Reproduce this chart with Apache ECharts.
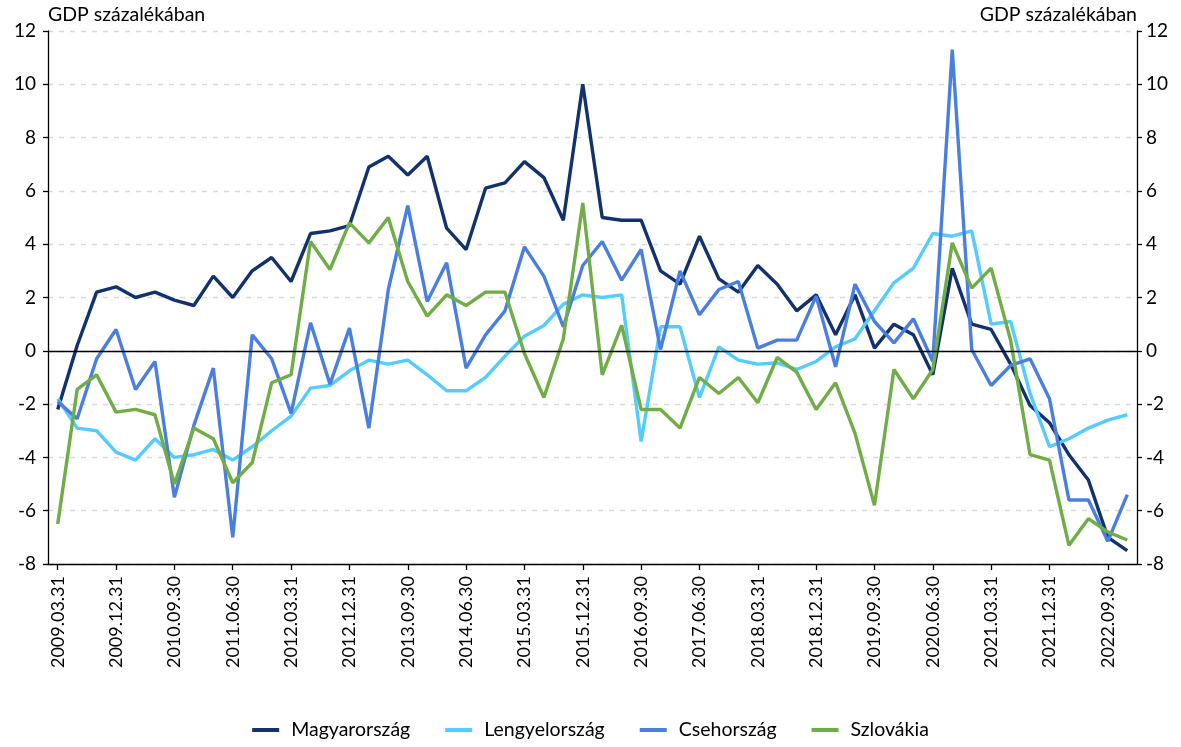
<!DOCTYPE html>
<html>
<head>
<meta charset="utf-8">
<script src="https://cdn.jsdelivr.net/npm/echarts@6/dist/echarts.min.js"></script>
<style>
html,body{margin:0;padding:0;background:#fff;}
#c{width:1181px;height:747px;}
</style>
</head>
<body>
<div id="c"></div>
<script>
const categories = [
 '2009.03.31','2009.06.30','2009.09.30','2009.12.31',
 '2010.03.31','2010.06.30','2010.09.30','2010.12.31',
 '2011.03.31','2011.06.30','2011.09.30','2011.12.31',
 '2012.03.31','2012.06.30','2012.09.30','2012.12.31',
 '2013.03.31','2013.06.30','2013.09.30','2013.12.31',
 '2014.03.31','2014.06.30','2014.09.30','2014.12.31',
 '2015.03.31','2015.06.30','2015.09.30','2015.12.31',
 '2016.03.31','2016.06.30','2016.09.30','2016.12.31',
 '2017.03.31','2017.06.30','2017.09.30','2017.12.31',
 '2018.03.31','2018.06.30','2018.09.30','2018.12.31',
 '2019.03.31','2019.06.30','2019.09.30','2019.12.31',
 '2020.03.31','2020.06.30','2020.09.30','2020.12.31',
 '2021.03.31','2021.06.30','2021.09.30','2021.12.31',
 '2022.03.31','2022.06.30','2022.09.30','2022.12.31'
];
const magyarorszag = [
 -2.2, 0.2, 2.2, 2.4, 2.0, 2.2, 1.9, 1.7, 2.8, 2.0, 3.0, 3.5,
 2.6, 4.4, 4.5, 4.7, 6.9, 7.3, 6.6, 7.3, 4.6, 3.8, 6.1, 6.3,
 7.1, 6.5, 4.9, 10.0, 5.0, 4.9, 4.9, 3.0, 2.5, 4.3, 2.7, 2.2,
 3.2, 2.5, 1.5, 2.1, 0.6, 2.1, 0.1, 1.0, 0.6, -0.9, 3.1, 1.0,
 0.8, -0.5, -2.05, -2.7, -3.9, -4.85, -7.0, -7.5
];
const lengyelorszag = [
 -1.8, -2.9, -3.0, -3.8, -4.1, -3.3, -4.0, -3.9, -3.7, -4.1, -3.6, -3.0,
 -2.45, -1.4, -1.3, -0.75, -0.35, -0.5, -0.35, -0.9, -1.5, -1.5, -1.0, -0.2,
 0.55, 0.95, 1.75, 2.1, 2.0, 2.1, -3.4, 0.9, 0.9, -1.75, 0.15, -0.35,
 -0.5, -0.45, -0.7, -0.4, 0.15, 0.45, 1.5, 2.55, 3.1, 4.4, 4.3, 4.5,
 1.0, 1.1, -1.6, -3.6, -3.3, -2.9, -2.6, -2.4
];
const csehorszag = [
 -1.9, -2.55, -0.3, 0.8, -1.45, -0.4, -5.5, -2.8, -0.65, -7.0, 0.6, -0.3,
 -2.35, 1.05, -1.25, 0.85, -2.9, 2.3, 5.45, 1.85, 3.3, -0.65, 0.6, 1.5,
 3.9, 2.8, 0.9, 3.2, 4.1, 2.65, 3.8, 0.05, 3.0, 1.35, 2.3, 2.6,
 0.1, 0.4, 0.4, 2.05, -0.6, 2.5, 1.1, 0.3, 1.2, -0.4, 11.3, 0.05,
 -1.3, -0.55, -0.3, -1.8, -5.6, -5.6, -7.15, -5.4
];
const szlovakia = [
 -6.5, -1.45, -0.9, -2.3, -2.2, -2.4, -5.0, -2.9, -3.3, -4.95, -4.2, -1.2,
 -0.9, 4.1, 3.05, 4.8, 4.05, 5.0, 2.6, 1.3, 2.1, 1.7, 2.2, 2.2,
 -0.1, -1.75, 0.45, 5.55, -0.9, 0.95, -2.2, -2.2, -2.9, -1.0, -1.6, -1.0,
 -1.95, -0.25, -0.8, -2.2, -1.2, -3.1, -5.8, -0.7, -1.8, -0.7, 4.05, 2.35,
 3.1, 0.4, -3.9, -4.1, -7.3, -6.3, -6.8, -7.1
];
const yTicks = {min: -8, max: 12, interval: 2};
const yName = 'GDP százalékában';
const names = ['Magyarország','Lengyelország','Csehország','Szlovákia'];
const colors = ['#12326e','#55ccff','#4a7fe0','#70ad47'];

const FONT = 'Lato';
const chart = echarts.init(document.getElementById('c'), null, {renderer:'canvas'});

function yAxisDef(pos){
  return {
    type:'value', position: pos, min: yTicks.min, max: yTicks.max, interval: yTicks.interval,
    name: yName, nameLocation:'end', nameGap: 6,
    nameTextStyle:{color:'#000', fontFamily:FONT, fontSize:19.5, align: pos==='left'?'left':'right', padding:[0,0,0,0]},
    axisLine:{show:true, lineStyle:{color:'#000', width:1.3}},
    axisTick:{show:true, length:5, inside:false, lineStyle:{color:'#000', width:1.3}},
    axisLabel:{color:'#000', fontFamily:FONT, fontSize:19, margin: pos==='left'?12:9},
    splitLine:{show: pos==='left', lineStyle:{color:'#d9d9d9', type:[5,6], width:1.3}}
  };
}

const series = [magyarorszag, lengyelorszag, csehorszag, szlovakia].map((d,i)=>({
  name: names[i], type:'line', data: d, yAxisIndex: 0,
  symbol:'none', smooth:false, animation:false,
  lineStyle:{color: colors[i], width:3.4}, itemStyle:{color: colors[i]},
  emphasis:{disabled:true}
}));
series[0].markLine = {
  silent:true, symbol:'none', animation:false,
  label:{show:false},
  lineStyle:{color:'#000', width:1.4, type:'solid'},
  data:[{yAxis:0}]
};
series[0].z = 3;

chart.setOption({
  animation:false,
  backgroundColor:'#fff',
  grid:{left:48, right:44, top:31, bottom:183, containLabel:false},
  legend:{
    show:true, bottom:2, left:'center', itemWidth:27, itemHeight:4, itemGap:35,
    icon:'rect',
    textStyle:{color:'#000', fontFamily:FONT, fontSize:19.5, padding:[0,0,0,7]},
    data: names
  },
  xAxis:{
    type:'category', data: categories, boundaryGap:true,
    axisLine:{show:true, onZero:false, lineStyle:{color:'#000', width:1.3}},
    axisTick:{show:true, interval:2, alignWithLabel:true, length:6, lineStyle:{color:'#000', width:1.3}},
    axisLabel:{interval:2, rotate:90, color:'#000', fontFamily:FONT, fontSize:18, margin:12},
    splitLine:{show:false}
  },
  yAxis:[yAxisDef('left'), yAxisDef('right')],
  series: series
});
</script>
</body>
</html>
